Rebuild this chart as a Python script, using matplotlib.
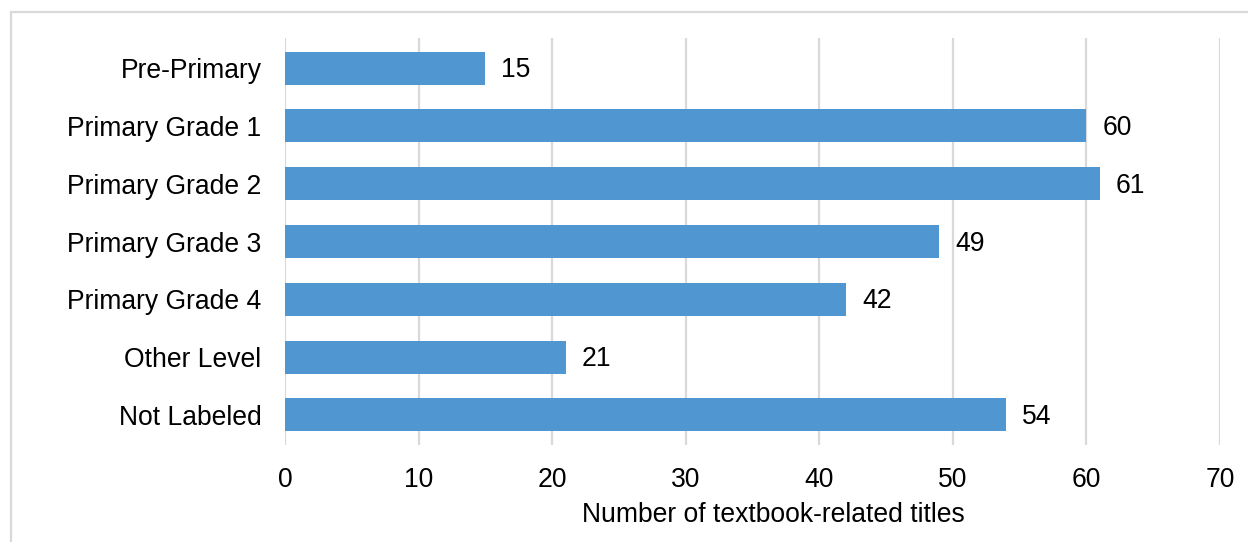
import matplotlib
matplotlib.use("Agg")
import matplotlib.pyplot as plt
from matplotlib.patches import Rectangle

categories = ["Pre-Primary", "Primary Grade 1", "Primary Grade 2", "Primary Grade 3",
              "Primary Grade 4", "Other Level", "Not Labeled"]
values = [15, 60, 61, 49, 42, 21, 54]
xticks = [0, 10, 20, 30, 40, 50, 60, 70]
xlabel = "Number of textbook-related titles"

plt.rcParams['font.family'] = ['Liberation Sans', 'DejaVu Sans']
FS = 19.1
W, H = 1248, 542
fig = plt.figure(figsize=(W / 100, H / 100), dpi=100)

# outer light border (extends beyond right/bottom edges)
fig.patches.append(Rectangle((11 / W, -0.1), 1.2, 1 - 12 / H + 0.1, transform=fig.transFigure,
                             fill=False, edgecolor="#d9d9d9", linewidth=1.6))

ax = fig.add_axes([285 / W, 1 - 445 / H, (1220 - 285) / W, (445 - 38) / H])
ypos = list(range(len(categories)))
ax.barh(ypos, values, height=0.57, color="#5096d0", zorder=3)
for y, v in zip(ypos, values):
    ax.annotate(str(v), (v, y), xytext=(11.5, -1.5), textcoords="offset points",
                va="center", ha="left", fontsize=FS, color="black")

ax.set_xlim(0, 70)
ax.set_ylim(len(categories) - 1 + 0.52, -0.52)
ax.set_yticks(ypos)
ax.set_yticklabels(categories, fontsize=FS)
ax.set_xticks(xticks)
ax.set_xticklabels([str(t) for t in xticks], fontsize=FS)
ax.tick_params(axis="both", length=0)
ax.tick_params(axis="y", pad=17)
ax.tick_params(axis="x", pad=16)
ax.grid(axis="x", color="#d9d9d9", linewidth=1.6, zorder=0)
ax.set_axisbelow(True)
for s in ax.spines.values():
    s.set_visible(False)
ax.set_xlabel(xlabel, fontsize=FS)
ax.xaxis.set_label_coords(0.522, -0.172)
ax.xaxis.label.set_va("center")

fig.savefig("out.png", dpi=100)
